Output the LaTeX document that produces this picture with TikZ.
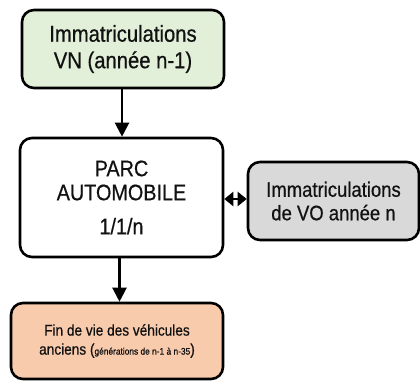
\documentclass[tikz,border=0pt]{standalone}
\usepackage{fontspec}
\setmainfont[FakeStretch=0.88,FakeBold=0.6]{Liberation Sans}
\usetikzlibrary{arrows.meta}
\definecolor{vngreen}{HTML}{E2EFD9}
\definecolor{vogray}{HTML}{D9D9D9}
\definecolor{finorange}{HTML}{F8CBAD}
\definecolor{txt}{HTML}{111111}
\tikzset{
  box/.style={draw=black, line width=2.6pt, rounded corners=12pt, align=center, text=txt, inner sep=0pt},
  flow/.style={line width=2.2pt, -{Triangle[width=14pt,length=14pt]}},
  both/.style={line width=2.5pt, {Triangle[width=14pt,length=9pt]}-{Triangle[width=14pt,length=9pt]}}
}
\begin{document}
\begin{tikzpicture}[x=1pt,y=-1pt]
\useasboundingbox (0,0) rectangle (420,380);
\node[box, fill=vngreen, minimum width=202pt, minimum height=78pt, font=\fontsize{23}{26.5}\selectfont] (vn) at (123,49) {Immatriculations\\VN (année n-1)};
\node[box, fill=white, minimum width=203pt, minimum height=119pt, font=\fontsize{22.5}{24}\selectfont] (parc) at (121.5,197.5) {PARC\\AUTOMOBILE\\[10pt]1/1/n};
\node[box, fill=vogray, minimum width=171pt, minimum height=78pt, font=\fontsize{21}{23.5}\selectfont] (vo) at (333.5,201) {Immatriculations\\de VO année n};
\node[box, fill=finorange, minimum width=212pt, minimum height=76pt, font=\fontsize{15.5}{19}\selectfont] (fin) at (117,341) {Fin de vie des véhicules\\anciens ({\fontsize{9.5}{11}\selectfont générations de n-1 à n-35})};
\draw[flow] (vn.south -| 122,0) -- (parc.north -| 122,0);
\draw[flow] (parc.south -| 119.5,0) -- (fin.north -| 119.5,0);
\draw[both] (parc.east |- 0,199) -- (vo.west |- 0,199);
\end{tikzpicture}
\end{document}
